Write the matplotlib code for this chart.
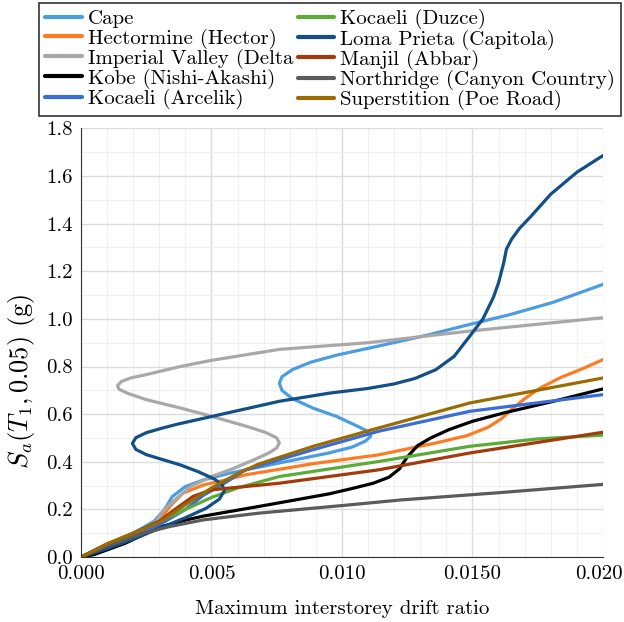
import matplotlib
matplotlib.use("Agg")
import matplotlib.pyplot as plt
import matplotlib.transforms as mtransforms
from matplotlib.ticker import FixedLocator, FixedFormatter, MultipleLocator

plt.rcParams['font.family'] = 'cmr10'
plt.rcParams['mathtext.fontset'] = 'cm'
plt.rcParams['axes.formatter.use_mathtext'] = True

# IDA curves: (drift, Sa) points
cape_x = [0, 0.001, 0.002, 0.0028, 0.0032, 0.0035, 0.004, 0.0047, 0.0057, 0.0076, 0.0095,
          0.0104, 0.0109, 0.0111, 0.011, 0.0106, 0.0098, 0.0089, 0.0081, 0.0077, 0.0076,
          0.0077, 0.0081, 0.0088, 0.0098, 0.0114, 0.0132, 0.0149, 0.0165, 0.0181, 0.020]
cape_y = [0, 0.05, 0.1, 0.15, 0.2, 0.254, 0.296, 0.324, 0.352, 0.395, 0.437,
          0.462, 0.487, 0.507, 0.527, 0.549, 0.59, 0.625, 0.665, 0.70, 0.73,
          0.757, 0.787, 0.818, 0.848, 0.886, 0.93, 0.977, 1.02, 1.07, 1.145]

hector_x = [0, 0.001, 0.002, 0.003, 0.0034, 0.0039, 0.0047, 0.0056, 0.0063, 0.0089, 0.0114,
            0.0136, 0.0148, 0.0156, 0.0161, 0.0165, 0.017, 0.0176, 0.0184, 0.0192, 0.020]
hector_y = [0, 0.045, 0.09, 0.15, 0.212, 0.268, 0.303, 0.325, 0.345, 0.392, 0.429,
            0.479, 0.51, 0.545, 0.58, 0.62, 0.665, 0.71, 0.755, 0.79, 0.829]

imperial_x = [0, 0.001, 0.002, 0.0028, 0.0032, 0.0037, 0.0042, 0.005, 0.0058, 0.0066, 0.0072,
              0.0075, 0.0076, 0.0075, 0.0071, 0.0064, 0.005, 0.0038, 0.0025, 0.0018, 0.00145,
              0.0014, 0.00155, 0.0019, 0.0025, 0.0038, 0.005, 0.0076, 0.011, 0.0149, 0.020]
imperial_y = [0, 0.04, 0.09, 0.14, 0.2, 0.25, 0.296, 0.338, 0.37, 0.407, 0.437,
              0.458, 0.479, 0.5, 0.522, 0.547, 0.591, 0.626, 0.661, 0.687, 0.705,
              0.72, 0.737, 0.752, 0.766, 0.80, 0.826, 0.872, 0.90, 0.949, 1.005]

kobe_x = [0, 0.0005, 0.0017, 0.003, 0.004, 0.0047, 0.0068, 0.0095, 0.0104, 0.0112, 0.0118,
          0.0122, 0.0125, 0.0129, 0.0134, 0.0141, 0.015, 0.0162, 0.0181, 0.020]
kobe_y = [0, 0.01, 0.058, 0.125, 0.155, 0.172, 0.212, 0.265, 0.288, 0.31, 0.335,
          0.37, 0.42, 0.468, 0.5, 0.535, 0.57, 0.605, 0.654, 0.706]

arcelik_x = [0, 0.001, 0.002, 0.003, 0.004, 0.0047, 0.0055, 0.0063, 0.0089, 0.0114, 0.0149, 0.020]
arcelik_y = [0, 0.04, 0.085, 0.135, 0.2, 0.26, 0.31, 0.366, 0.451, 0.528, 0.612, 0.682]

duzce_x = [0, 0.001, 0.002, 0.003, 0.004, 0.005, 0.006, 0.0076, 0.0114, 0.0149, 0.0175, 0.020]
duzce_y = [0, 0.05, 0.1, 0.15, 0.2, 0.25, 0.29, 0.338, 0.401, 0.465, 0.496, 0.512]

loma_x = [0, 0.001, 0.002, 0.003, 0.004, 0.0048, 0.0053, 0.0055, 0.0054, 0.0051, 0.0045,
          0.0038, 0.0031, 0.0025, 0.0021, 0.00197, 0.0021, 0.0025, 0.0031, 0.0037, 0.005,
          0.0076, 0.0095, 0.011, 0.012, 0.0128, 0.0136, 0.0143, 0.0149, 0.0154, 0.0158,
          0.016, 0.0162, 0.0163, 0.0165, 0.0168, 0.0172, 0.018, 0.019, 0.020]
loma_y = [0, 0.035, 0.075, 0.12, 0.165, 0.205, 0.243, 0.28, 0.305, 0.328, 0.358,
          0.387, 0.41, 0.43, 0.452, 0.477, 0.501, 0.522, 0.541, 0.558, 0.59,
          0.654, 0.688, 0.708, 0.727, 0.75, 0.787, 0.843, 0.928, 1.0, 1.09,
          1.152, 1.237, 1.293, 1.335, 1.38, 1.426, 1.524, 1.616, 1.686]

manjil_x = [0, 0.001, 0.002, 0.003, 0.0036, 0.0043, 0.005, 0.0076, 0.0114, 0.0149, 0.020]
manjil_y = [0, 0.055, 0.1, 0.15, 0.2, 0.255, 0.282, 0.31, 0.366, 0.437, 0.524]

north_x = [0, 0.001, 0.0024, 0.0034, 0.0047, 0.0068, 0.0099, 0.0123, 0.016, 0.020]
north_y = [0, 0.045, 0.1, 0.128, 0.156, 0.184, 0.215, 0.24, 0.27, 0.305]

superst_x = [0, 0.001, 0.002, 0.003, 0.004, 0.005, 0.006, 0.0068, 0.0089, 0.0114, 0.0149, 0.020]
superst_y = [0, 0.055, 0.1, 0.145, 0.22, 0.29, 0.35, 0.39, 0.465, 0.542, 0.647, 0.752]

records = [
    ('Cape', cape_x, cape_y, '#4a9de0'),
    ('Hectormine (Hector)', hector_x, hector_y, '#ff7b22'),
    ('Imperial Valley (Delta', imperial_x, imperial_y, '#a8a8a8'),
    ('Kobe (Nishi-Akashi)', kobe_x, kobe_y, '#000000'),
    ('Kocaeli (Arcelik)', arcelik_x, arcelik_y, '#3a6cd6'),
    ('Kocaeli (Duzce)', duzce_x, duzce_y, '#5aac36'),
    ('Loma Prieta (Capitola)', loma_x, loma_y, '#114f86'),
    ('Manjil (Abbar)', manjil_x, manjil_y, '#a23a0c'),
    ('Northridge (Canyon Country)', north_x, north_y, '#5b5b5b'),
    ('Superstition (Poe Road)', superst_x, superst_y, '#9a6b00'),
]

xticks = [0, 0.005, 0.010, 0.015, 0.020]
xticklabels = ['0.000', '0.005', '0.010', '0.0150', '0.020']
yticks = [0, 0.2, 0.4, 0.6, 0.8, 1.0, 1.2, 1.4, 1.6, 1.8]
yticklabels = ['0.0', '0.2', '0.4', '0.6', '0.8', '1.0', '1.2', '1.4', '1.6', '1.8']

fs = 15

fig = plt.figure(figsize=(6.24, 6.22), dpi=100)
ax = fig.add_axes([0.1298, 0.1045, 0.8365, 0.689])

for name, xs, ys, col in records:
    ax.plot(xs, ys, color=col, lw=2.3, label=name, solid_capstyle='round',
            solid_joinstyle='round')

ax.set_xlim(0, 0.020)
ax.set_ylim(0, 1.8)
ax.xaxis.set_major_locator(FixedLocator(xticks))
ax.xaxis.set_major_formatter(FixedFormatter(xticklabels))
ax.yaxis.set_major_locator(FixedLocator(yticks))
ax.yaxis.set_major_formatter(FixedFormatter(yticklabels))
ax.xaxis.set_minor_locator(MultipleLocator(0.001))
ax.yaxis.set_minor_locator(MultipleLocator(0.1))
ax.grid(which='major', color='#dcdcdc', lw=1.0)
ax.grid(which='minor', color='#f0f0f0', lw=0.8)
ax.set_axisbelow(True)
ax.tick_params(which='both', length=0, labelsize=fs, pad=6)
ax.spines['top'].set_visible(False)
ax.spines['right'].set_visible(False)
ax.spines['left'].set_color('#333333')
ax.spines['bottom'].set_color('#333333')

# keep the last x label inside the canvas
last = ax.get_xticklabels()[-1]
last.set_transform(last.get_transform() +
                   mtransforms.ScaledTranslation(-4 / 100, 0, fig.dpi_scale_trans))

ax.set_xlabel('Maximum interstorey drift ratio', fontsize=fs, labelpad=12)
ax.set_ylabel(r'$S_a(T_1, 0.05)$ (g)', fontsize=19)
ax.yaxis.set_label_coords(-0.085, 0.41)

leg = fig.legend(loc='upper left', bbox_to_anchor=(0.0625, 0.995), ncol=2,
                 fontsize=fs, frameon=True, fancybox=False, edgecolor='black',
                 handlelength=1.75, handletextpad=0.28, columnspacing=0.22,
                 labelspacing=0.0, borderpad=0.3, borderaxespad=0)
leg.get_frame().set_linewidth(1.2)
for h in leg.get_lines():
    h.set_linewidth(3)

fig.savefig('out.png', dpi=100)
